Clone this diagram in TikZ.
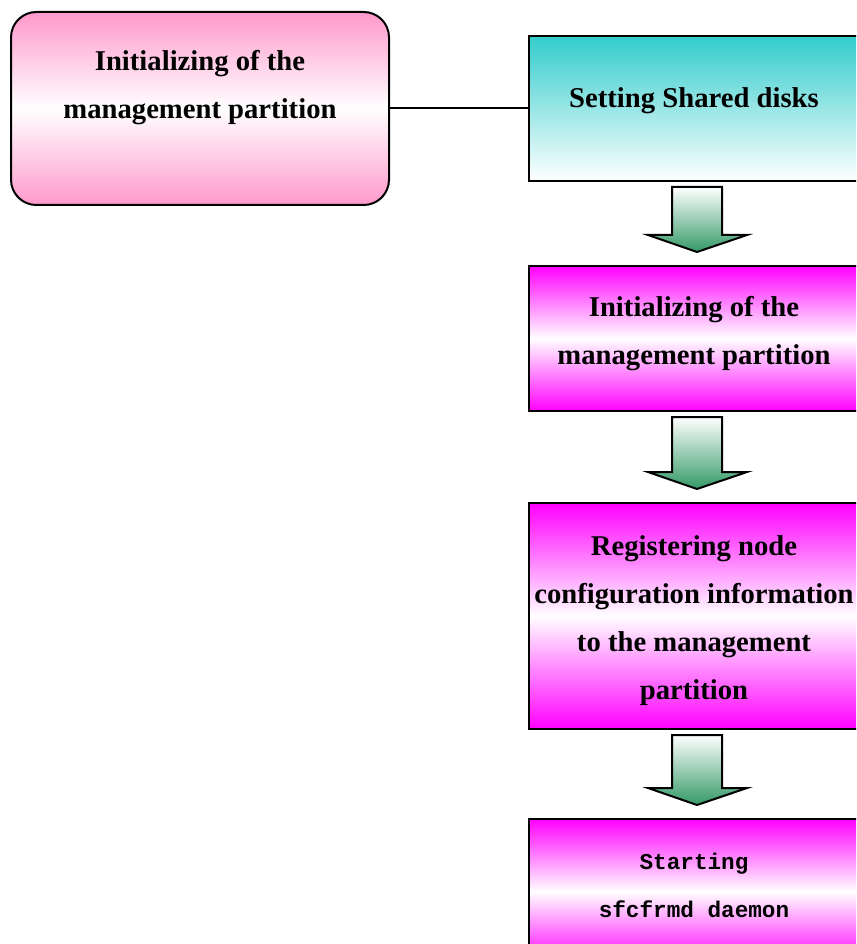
\documentclass[tikz,border=0pt]{standalone}
\usepackage{fontspec}
\setmainfont{Liberation Serif}
\newfontfamily\daemonfont{Liberation Mono}
\usetikzlibrary{calc}
\definecolor{Blush}{HTML}{FF99CC}
\definecolor{Lagoon}{HTML}{33CCCC}
\definecolor{Fuchsia}{HTML}{FF00FF}
\definecolor{Jade}{HTML}{339966}
\tikzset{
  stagebox/.style={rectangle, draw=black, line width=1.5pt,
                   top color=#1, bottom color=#1, middle color=white,
                   minimum width=330*0.75pt, minimum height=145*0.75pt,
                   inner sep=0pt, outer sep=0pt},
  diskbox/.style={rectangle, draw=black, line width=1.5pt,
                   top color=Lagoon, bottom color=white,
                   minimum width=330*0.75pt, minimum height=145*0.75pt,
                   inner sep=0pt, outer sep=0pt},
  sidebox/.style={rectangle, rounded corners=19pt, draw=black, line width=1.5pt,
                   top color=Blush, bottom color=Blush, middle color=white,
                   minimum width=378*0.75pt, minimum height=193*0.75pt,
                   inner sep=0pt, outer sep=0pt},
  boxtext/.style={font=\fontsize{21.5pt}{36pt}\selectfont\bfseries,
                   align=center, text=black, inner sep=0pt},
  daemontext/.style={font=\fontsize{17pt}{36pt}\selectfont\daemonfont\bfseries,
                   align=center, text=black, inner sep=0pt},
}
% block arrow between two stacked boxes
\newcommand{\stagearrow}[2]{%
  \draw[blockarr] ($(#1.south)+(-22,6)$) -- ($(#2.north)+(-22,-31)$)
    -- ($(#2.north)+(-46,-31)$) -- ($(#2.north)+(3,-14)$)
    -- ($(#2.north)+(53,-31)$) -- ($(#2.north)+(28,-31)$)
    -- ($(#1.south)+(28,6)$) -- cycle;}

\begin{document}
\begin{tikzpicture}[x=0.75pt, y=-0.75pt,
        link/.style={line width=1.5pt, color=black},
        blockarr/.style={draw=black, line width=1.5pt, top color=white, bottom color=Jade}
      ]
        \clip (0,0) rectangle (856,944);
        \node[sidebox, label={[boxtext, yshift=15.75pt]center:Initializing of the\\management partition}] (mgmt) at (200,108.5) {};
        \node[diskbox, label={[boxtext, yshift=5.75pt]center:Setting Shared disks}] (disks) at (694,108.5) {};
        \node[stagebox=Fuchsia, label={[boxtext, yshift=3.5pt]center:Initializing of the\\management partition}] (init) at (694,338.5) {};
        \node[stagebox=Fuchsia, minimum height=226*0.75pt, label={[boxtext, yshift=-3.75pt]center:Registering node\\configuration information\\to the management\\partition}] (register) at (694,616) {};
        \node[stagebox=Fuchsia, label={[daemontext, yshift=4.25pt]center:Starting\\sfcfrmd daemon}] (start) at (694,891.5) {};
        \draw[link] (mgmt) -- (disks);
        \stagearrow{disks}{init}
        \stagearrow{init}{register}
        \stagearrow{register}{start}
      \end{tikzpicture}
\end{document}
